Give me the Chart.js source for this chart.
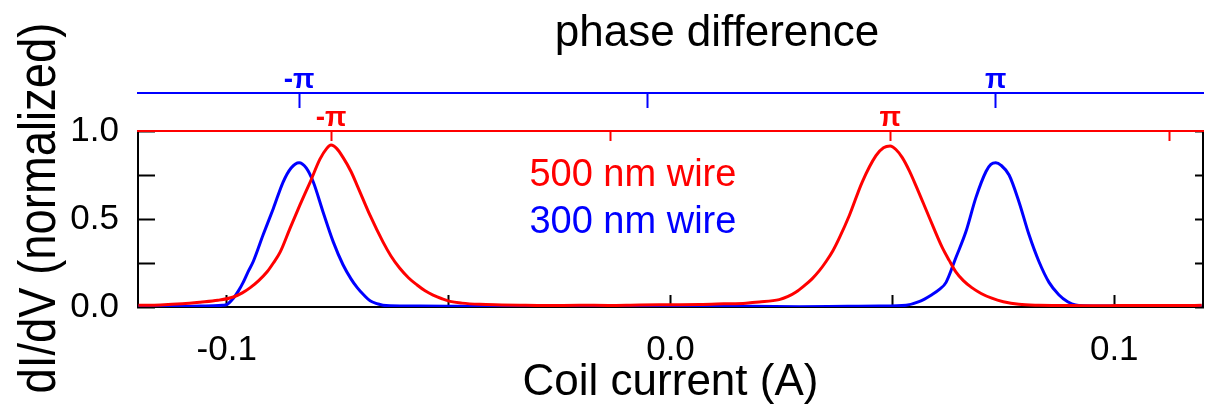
<!DOCTYPE html>
<html>
<head>
<meta charset="utf-8">
<script src="https://cdn.jsdelivr.net/npm/chart.js@4/dist/chart.umd.min.js"></script>
<style>
  html, body { margin: 0; padding: 0; background: #ffffff; }
  #c { display: block; }
</style>
</head>
<body>
<canvas id="c" width="1208" height="412"></canvas>
<script>
// ---------------- data ----------------
const redCurrent = [
  -0.1199, -0.1150, -0.1100, -0.1060, -0.1020, -0.0985, -0.0965, -0.0947, -0.0928, -0.0909,
  -0.0895, -0.0880, -0.0857, -0.0835, -0.0812, -0.0790, -0.0775, -0.0765, -0.0752, -0.0738,
  -0.0720, -0.0706, -0.0677, -0.0648, -0.0630, -0.0610, -0.0590, -0.0571, -0.0553, -0.0535,
  -0.0515, -0.0497, -0.0470, -0.0430, -0.0380, -0.0340, -0.0280, -0.0205, -0.0140, -0.0070,
   0.0000,  0.0065,  0.0120,  0.0170,  0.0200,  0.0245,  0.0265,  0.0283,  0.0301,  0.0319,
   0.0335,  0.0351,  0.0366,  0.0380,  0.0403,  0.0432,  0.0463,  0.0480,  0.0495,  0.0508,
   0.0522,  0.0538,  0.0553,  0.0583,  0.0612,  0.0628,  0.0643,  0.0660,  0.0679,  0.0700,
   0.0724,  0.0750,  0.0785,  0.0830,  0.0875,  0.0950,  0.1010,  0.1080,  0.1150,  0.1197
];
const redSignal = [
  0.010, 0.012, 0.018, 0.027, 0.038, 0.057, 0.080, 0.110, 0.150, 0.200,
  0.250, 0.310, 0.450, 0.580, 0.710, 0.840, 0.900, 0.920, 0.900, 0.850,
  0.770, 0.690, 0.520, 0.370, 0.290, 0.220, 0.165, 0.125, 0.092, 0.068,
  0.047, 0.032, 0.022, 0.015, 0.012, 0.010, 0.008, 0.010, 0.009, 0.012,
  0.013, 0.014, 0.018, 0.022, 0.028, 0.042, 0.060, 0.085, 0.120, 0.160,
  0.205, 0.260, 0.320, 0.390, 0.520, 0.710, 0.860, 0.905, 0.915, 0.895,
  0.850, 0.775, 0.690, 0.510, 0.340, 0.265, 0.200, 0.150, 0.110, 0.077,
  0.050, 0.030, 0.015, 0.010, 0.009, 0.007, 0.008, 0.009, 0.008, 0.010
];
const blueCurrent = [
  -0.1199, -0.1150, -0.1100, -0.1060, -0.1030, -0.1010, -0.0999, -0.0985, -0.0974, -0.0963,
  -0.0952, -0.0940, -0.0918, -0.0895, -0.0873, -0.0855, -0.0837, -0.0821, -0.0805, -0.0783,
  -0.0760, -0.0738, -0.0720, -0.0706, -0.0690, -0.0677, -0.0660, -0.0648, -0.0600, -0.0565,
  -0.0480, -0.0385, -0.0280, -0.0160, -0.0050,  0.0065,  0.0180,  0.0290,  0.0400,  0.0470,
   0.0531,  0.0560,  0.0589,  0.0606,  0.0621,  0.0643,  0.0666,  0.0688,  0.0711,  0.0722,
   0.0733,  0.0745,  0.0763,  0.0785,  0.0808,  0.0830,  0.0853,  0.0875,  0.0895,  0.0913,
   0.0960,  0.1010,  0.1100,  0.1197
];
const blueSignal = [
  0.004, 0.005, 0.003, 0.006, 0.007, 0.010, 0.015, 0.050, 0.090, 0.140,
  0.200, 0.260, 0.410, 0.560, 0.710, 0.790, 0.820, 0.790, 0.710, 0.540,
  0.370, 0.240, 0.160, 0.110, 0.065, 0.035, 0.018, 0.010, 0.006, 0.005,
  0.004, 0.003, 0.004, 0.001, 0.003, 0.003, 0.004, 0.002, 0.004, 0.005,
  0.010, 0.030, 0.070, 0.100, 0.140, 0.280, 0.430, 0.620, 0.770, 0.810,
  0.820, 0.805, 0.750, 0.600, 0.410, 0.260, 0.140, 0.070, 0.030, 0.012,
  0.006, 0.005, 0.004, 0.005
];

const seriesNames = ['500 nm wire', '300 nm wire'];
const chartTitle = 'phase difference';
const xAxisTitle = 'Coil current (A)';
const yAxisTitle = 'dI/dV (normalized)';

// axis ticks
const xTickValues = [-0.1, -0.05, 0, 0.05, 0.1];
const xTickLabels = ['-0.1', '', '0.0', '', '0.1'];
const yTickValues = [0, 0.25, 0.5, 0.75, 1.0];
const yTickLabels = ['0.0', '', '0.5', '', '1.0'];

// phase-difference axes: coil currents at which phase = -π and +π
const redPiCurrents = [-0.0765, 0.0495];
const bluePiCurrents = [-0.0837, 0.0733];
const redPhaseTicks = [-1, 0, 1, 2];          // in units of π
const redPhaseLabels = ['-π', '', 'π', ''];
const bluePhaseTicks = [-1, 0, 1];
const bluePhaseLabels = ['-π', '', 'π'];

const xRange = [-0.12, 0.12];
const yRange = [0, 1.0];

// ---------------- chart ----------------
const RED = '#ff0000';
const BLUE = '#0000ff';
const FONT = "'Liberation Sans', Arial, Helvetica, sans-serif";
const TOP_PAD = 58;

function phaseRange(piC) {
  const span = piC[1] - piC[0];
  const f = v => -1 + 2 * (v - piC[0]) / span;
  return [f(xRange[0]), f(xRange[1])];
}
const redPhaseRange = phaseRange(redPiCurrents);
const bluePhaseRange = phaseRange(bluePiCurrents);

function pts(xs, ys) { return xs.map((x, i) => ({ x: x, y: ys[i] })); }
function setTicks(vals) { return scale => { scale.ticks = vals.map(v => ({ value: v })); }; }
function labelFrom(vals, labels) {
  return function (value) {
    const i = vals.findIndex(v => Math.abs(v - value) < 1e-9);
    return i >= 0 ? labels[i] : '';
  };
}

const textPlugin = {
  id: 'texts',
  afterDraw(chart) {
    const { ctx, scales } = chart;
    ctx.save();
    // chart title
    ctx.fillStyle = '#000';
    ctx.font = '44px ' + FONT;
    ctx.textAlign = 'center';
    ctx.textBaseline = 'alphabetic';
    ctx.fillText(chartTitle, 717, 46);
    // y-axis title (rotated, slightly condensed like the reference)
    ctx.save();
    ctx.translate(55, 208);
    ctx.rotate(-Math.PI / 2);
    ctx.scale(0.89, 1);
    ctx.font = '51px ' + FONT;
    ctx.textAlign = 'center';
    ctx.textBaseline = 'alphabetic';
    ctx.fillText(yAxisTitle, 0, 0);
    ctx.restore();
    ctx.restore();
  },
  afterDatasetsDraw(chart) {
    const { ctx, scales } = chart;
    const x = scales.x.getPixelForValue(-0.0318);
    const rows = [0.745, 0.478];
    const colors = [RED, BLUE];
    ctx.save();
    ctx.font = '38px ' + FONT;
    ctx.textAlign = 'left';
    ctx.textBaseline = 'middle';
    seriesNames.forEach((t, i) => {
      ctx.fillStyle = colors[i];
      ctx.fillText(t, x, scales.y.getPixelForValue(rows[i]));
    });
    ctx.restore();
  }
};

new Chart(document.getElementById('c'), {
  type: 'line',
  data: {
    datasets: [
      { label: seriesNames[0], data: pts(redCurrent, redSignal), borderColor: RED,
        borderWidth: 3, pointRadius: 0, cubicInterpolationMode: 'monotone', xAxisID: 'x', yAxisID: 'y' },
      { label: seriesNames[1], data: pts(blueCurrent, blueSignal), borderColor: BLUE,
        borderWidth: 3, pointRadius: 0, cubicInterpolationMode: 'monotone', xAxisID: 'x', yAxisID: 'y' }
    ]
  },
  options: {
    responsive: false,
    animation: false,
    events: [],
    layout: { padding: { top: TOP_PAD, left: 0, right: 0, bottom: 0 } },
    plugins: {
      legend: { display: false },
      tooltip: { enabled: false },
      title: { display: false }
    },
    scales: {
      x: {
        type: 'linear', position: 'bottom', min: xRange[0], max: xRange[1],
        afterBuildTicks: setTicks(xTickValues),
        afterFit: s => { s.height = 105; },
        border: { display: true, color: '#000', width: 2 },
        grid: { drawOnChartArea: false, drawTicks: true, tickLength: -12, tickColor: '#000', tickWidth: 2 },
        ticks: { autoSkip: false, maxRotation: 0, color: '#000', padding: 34,
                 font: { family: FONT, size: 35 }, callback: labelFrom(xTickValues, xTickLabels) },
        title: { display: true, text: xAxisTitle, color: '#000',
                 font: { family: FONT, size: 44, lineHeight: 1.2 }, padding: { top: 0, bottom: 3 } }
      },
      y: {
        type: 'linear', position: 'left', min: yRange[0], max: yRange[1],
        afterBuildTicks: setTicks(yTickValues),
        afterFit: s => { s.width = 138; },
        border: { display: true, color: '#000', width: 2 },
        grid: { drawOnChartArea: false, drawTicks: true, tickLength: -17, tickColor: '#000', tickWidth: 2 },
        ticks: { autoSkip: false, color: '#000', padding: 36,
                 font: { family: FONT, size: 35 }, callback: labelFrom(yTickValues, yTickLabels) },
        title: { display: false }
      },
      y2: {
        type: 'linear', position: 'right', min: yRange[0], max: yRange[1],
        afterBuildTicks: setTicks(yTickValues),
        afterFit: s => { s.width = 5; },
        border: { display: true, color: '#000', width: 2 },
        grid: { drawOnChartArea: false, drawTicks: true, tickLength: -8, tickColor: '#000', tickWidth: 2 },
        ticks: { display: false }
      },
      xr: {
        type: 'linear', position: 'top', weight: 0, min: redPhaseRange[0], max: redPhaseRange[1],
        afterBuildTicks: setTicks(redPhaseTicks),
        afterFit: s => { s.height = 38; },
        border: { display: true, color: RED, width: 2 },
        grid: { drawOnChartArea: false, drawTicks: true, tickLength: -10, tickColor: RED, tickWidth: 2 },
        ticks: { autoSkip: false, maxRotation: 0, color: RED, padding: 6,
                 font: { family: FONT, size: 28, weight: 'bold' }, callback: labelFrom(redPhaseTicks, redPhaseLabels) }
      },
      xb: {
        type: 'linear', position: 'top', weight: 1, min: bluePhaseRange[0], max: bluePhaseRange[1],
        afterBuildTicks: setTicks(bluePhaseTicks),
        afterFit: s => { s.height = 93 - TOP_PAD; },
        border: { display: true, color: BLUE, width: 2 },
        grid: { drawOnChartArea: false, drawTicks: true, tickLength: -15, tickColor: BLUE, tickWidth: 2 },
        ticks: { autoSkip: false, maxRotation: 0, color: BLUE, padding: 11,
                 font: { family: FONT, size: 28, weight: 'bold' }, callback: labelFrom(bluePhaseTicks, bluePhaseLabels) }
      }
    }
  },
  plugins: [textPlugin]
});
</script>
</body>
</html>
